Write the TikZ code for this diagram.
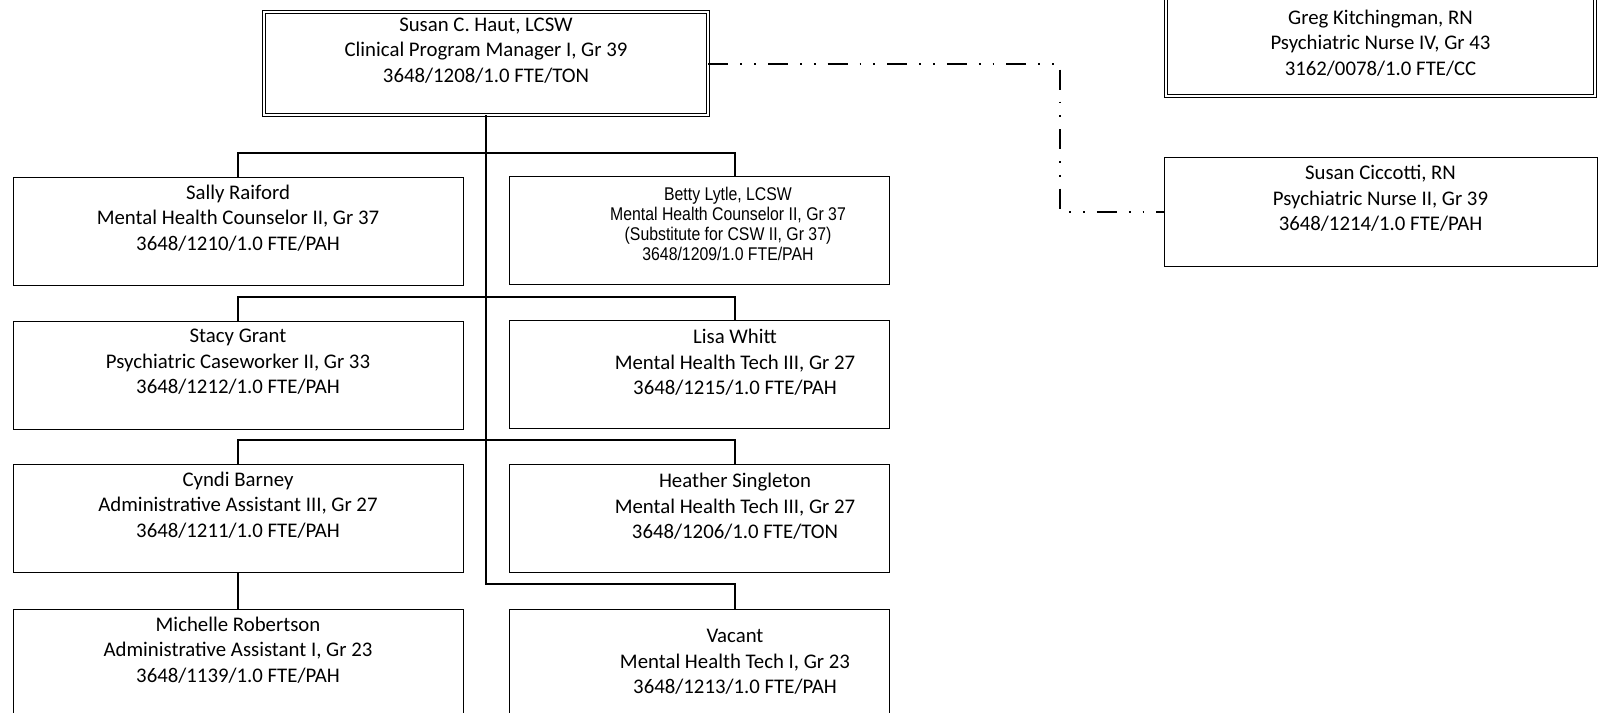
\documentclass[tikz,border=0pt]{standalone}
\usepackage{fontspec}
\setmainfont{Carlito}
\newfontfamily\narrowfont[FakeStretch=0.86]{Liberation Sans}
\usepackage{tikz}
\usetikzlibrary{positioning, calc}
% text of the right-hand column sits right of the box centre
\newcommand{\shiftbox}[2][36pt]{\hspace*{#1}\begin{tabular}{@{}c@{}}#2\end{tabular}}
% empty last line, as in the original chart
\newcommand{\blankline}{\\[-3pt]\strut}

\begin{document}
\begin{tikzpicture}[
    x=0.5pt, y=-0.5pt,
    post/.style={draw=black, line width=0.5pt, fill=white, inner sep=0pt, align=center,
                 font=\fontsize{10.4}{12.75}\selectfont},
    lpost/.style={post, minimum width=225pt, minimum height=54pt},
    rpost/.style={post, minimum width=190pt, minimum height=54pt},
    npost/.style={post, minimum width=216.5pt, minimum height=54.5pt},
    mgr/.style={double, double distance=1.2pt, line width=0.4pt},
    link/.style={draw=black, line width=1pt},
    liaison/.style={draw=black, line width=1pt,
                    dash pattern=on 10pt off 6pt on 0.9pt off 6pt on 0.9pt off 6pt}
  ]
  \useasboundingbox (0,0) rectangle (1616,712);

  % ---------------- manager ----------------
  \node[post, mgr, minimum width=222pt, minimum height=51.5pt] (haut) at (486,63.5)
    {Susan C. Haut, LCSW\\ Clinical Program Manager I, Gr 39\\ 3648/1208/1.0 FTE/TON\blankline};

  % ---------------- left column ----------------
  \node[lpost] (sally) at (238,231)
    {Sally Raiford\\ Mental Health Counselor II, Gr 37\\ 3648/1210/1.0 FTE/PAH\blankline};
  \node[lpost] (stacy) at (238,375)
    {Stacy Grant\\ Psychiatric Caseworker II, Gr 33\\ 3648/1212/1.0 FTE/PAH\blankline};
  \node[lpost] (cyndi) at (238,518)
    {Cyndi Barney\\ Administrative Assistant III, Gr 27\\ 3648/1211/1.0 FTE/PAH\blankline};
  \node[lpost] (michelle) at (238,663)
    {Michelle Robertson\\ Administrative Assistant I, Gr 23\\ 3648/1139/1.0 FTE/PAH\blankline};

  % ---------------- right column ----------------
  \node[rpost, font=\narrowfont\fontsize{9.2}{10}\selectfont] (betty) at (699,230)
    {\shiftbox[29pt]{Betty Lytle, LCSW\\ Mental Health Counselor II, Gr 37\\ (Substitute for CSW II, Gr 37)\\ 3648/1209/1.0 FTE/PAH\\[-6pt]\strut}};
  \node[rpost] (lisa) at (699,374)
    {\shiftbox{Lisa Whitt\\ Mental Health Tech III, Gr 27\\ 3648/1215/1.0 FTE/PAH\blankline}};
  \node[rpost] (heather) at (699,518)
    {\shiftbox{Heather Singleton\\ Mental Health Tech III, Gr 27\\ 3648/1206/1.0 FTE/TON\blankline}};
  \node[rpost] (vacant) at (699,663)
    {\shiftbox{Vacant\\ Mental Health Tech I, Gr 23\\ 3648/1213/1.0 FTE/PAH}};

  % ---------------- nursing ----------------
  \node[post, mgr, minimum width=214.5pt, minimum height=53pt] (greg) at (1380.5,43)
    {Greg Kitchingman, RN\\ Psychiatric Nurse IV, Gr 43\\ 3162/0078/1.0 FTE/CC};
  \node[npost] (cicc) at (1380.5,211.5)
    {Susan Ciccotti, RN\\ Psychiatric Nurse II, Gr 39\\ 3648/1214/1.0 FTE/PAH\blankline};

  % ---------------- lines ----------------
  \coordinate (rcol) at (735,0);
  \coordinate (lcol) at (1060,0);
  \coordinate (bus1) at (0,153);
  \coordinate (bus2) at (0,297);
  \coordinate (bus3) at (0,440);
  \coordinate (bus4) at (0,584);
  \draw[link] (sally.north) |- (haut.south |- bus1) -| (betty.north -| rcol);
  \draw[link] (stacy.north) |- (haut.south |- bus2) -| (lisa.north -| rcol);
  \draw[link] (cyndi.north) |- (haut.south |- bus3) -| (heather.north -| rcol);
  \draw[link] (haut.south) |- (bus4 -| rcol) -- (vacant.north -| rcol);
  \draw[link] (cyndi.south) -- (michelle.north);
  \draw[liaison] (haut.east) -| (cicc.west -| lcol) -- (cicc.west);
\end{tikzpicture}
\end{document}
